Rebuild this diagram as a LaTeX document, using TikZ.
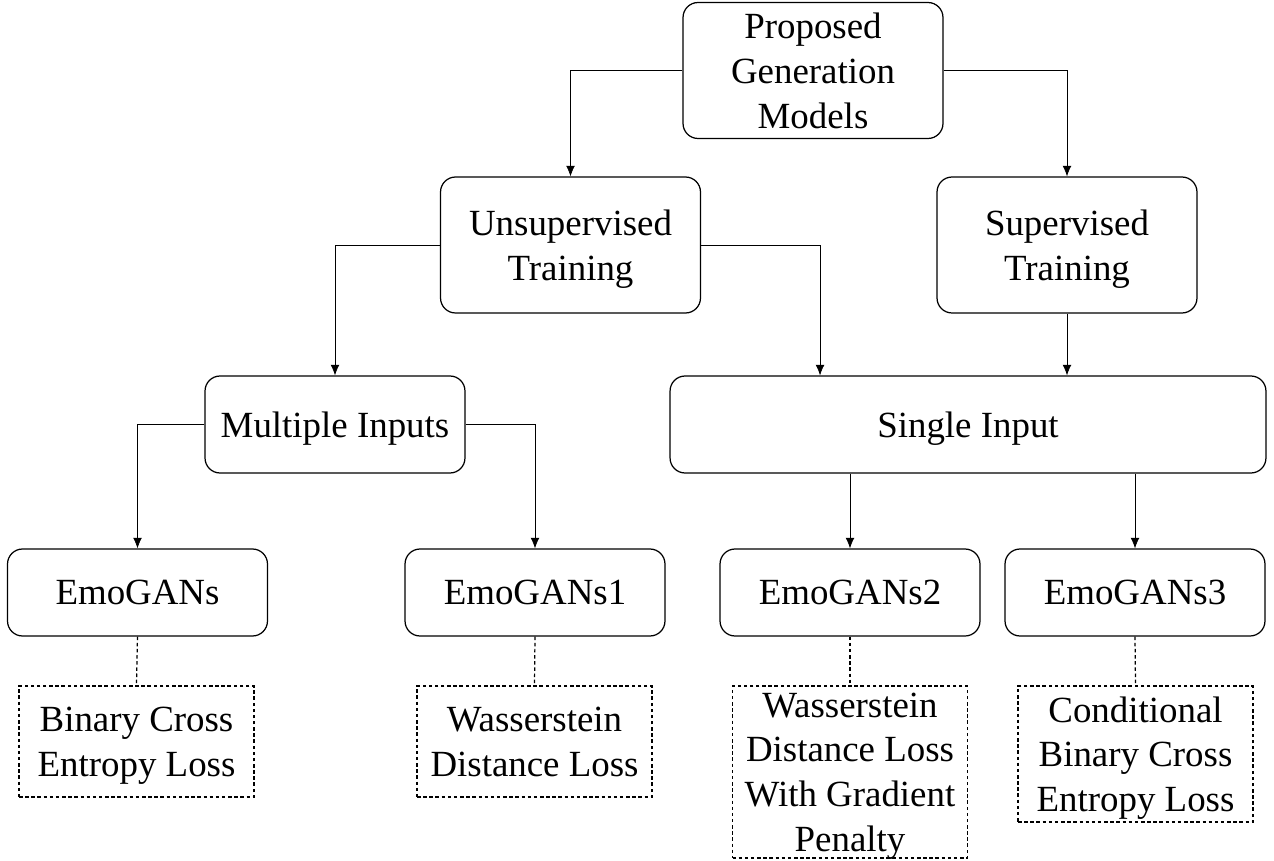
\documentclass[tikz,border=0pt]{standalone}
\usepackage{fontspec}
\setmainfont{Liberation Serif}
\usetikzlibrary{arrows.meta}
\tikzset{
    box/.style={draw,rounded corners=0.3cm,line width=0.7pt,align=center,inner sep=0pt,text depth=0pt,minimum width=5.2cm},
    lossbox/.style={draw,dash pattern=on 2pt off 1.5pt,line width=0.7pt,align=center,inner sep=0pt,text depth=0pt,minimum width=4.7cm},
    link/.style={dash pattern=on 2pt off 1.5pt,line width=0.7pt}
}
\begin{document}
\begin{tikzpicture}[>={Latex[length=6pt,width=5pt]},x=0.02cm,y=-0.02cm,font=\fontsize{21}{25.5}\selectfont]
    \useasboundingbox (0,0) rectangle (1274,861);
    % top level
    \node[box,minimum height=2.72cm] (root) at (813,70.5){Proposed\\Generation\\Models};
    \node[box,minimum height=2.72cm] (unsup) at (570.5,245){Unsupervised\\Training};
    \node[box,minimum height=2.72cm] (sup) at (1067,245){Supervised\\Training};
    % inputs
    \node[box,minimum height=1.94cm] (multi) at (335,424.5){Multiple Inputs};
    \node[box,minimum height=1.94cm,minimum width=11.92cm] (single) at (968,424.5){Single Input};
    % models
    \node[box,minimum height=1.74cm] (gan) at (137.5,592.5){EmoGANs};
    \node[box,minimum height=1.74cm] (gan1) at (535,592.5){EmoGANs1};
    \node[box,minimum height=1.74cm] (gan2) at (850,592.5){EmoGANs2};
    \node[box,minimum height=1.74cm] (gan3) at (1135,592.5){EmoGANs3};
    % losses
    \node[lossbox,minimum height=2.22cm] (loss) at (136.5,741.5){Binary Cross\\Entropy Loss};
    \node[lossbox,minimum height=2.22cm] (loss1) at (534.5,741.5){Wasserstein\\Distance Loss};
    \node[lossbox,minimum height=3.44cm] (loss2) at (850,772){Wasserstein\\Distance Loss\\With Gradient\\Penalty};
    \node[lossbox,minimum height=2.72cm] (loss3) at (1135.5,754){Conditional\\Binary Cross\\Entropy Loss};
    % arrows
    \draw[->] (root.west) -| (unsup.north);
    \draw[->] (root.east) -| (sup.north);
    \draw[->] (unsup.west) -| (multi.north);
    \draw[->] (unsup.east) -| ([xshift=-2.96cm]single.north);
    \draw[->] (sup.south) -- (sup.south |- single.north);
    \draw[->] (multi.west) -| (gan.north);
    \draw[->] (multi.east) -| (gan1.north);
    \draw[->] (single.south -| gan2.north) -- (gan2.north);
    \draw[->] (single.south -| gan3.north) -- (gan3.north);
    % loss links
    \draw[link] (gan.south) -- (loss.north);
    \draw[link] (gan1.south) -- (loss1.north);
    \draw[link] (gan2.south) -- (loss2.north);
    \draw[link] (gan3.south) -- (loss3.north);
\end{tikzpicture}
\end{document}
